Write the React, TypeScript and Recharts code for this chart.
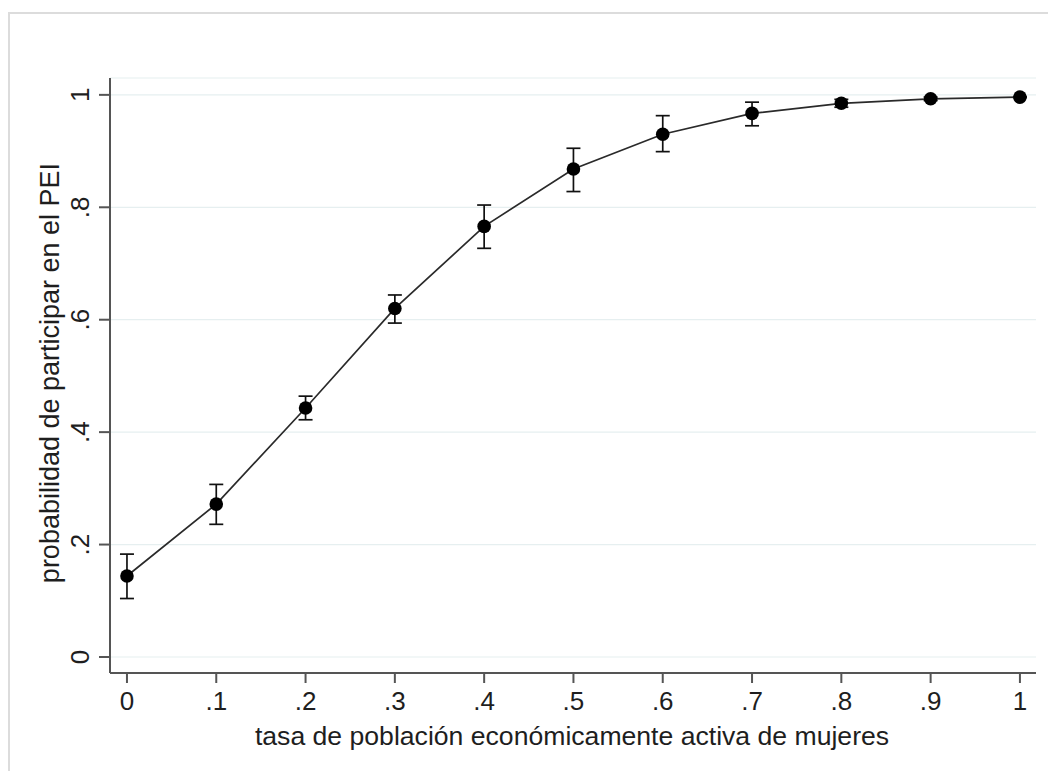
import {
  CartesianGrid,
  ComposedChart,
  ErrorBar,
  Line,
  XAxis,
  YAxis,
} from "recharts";

// tasa de PEA femenina (eje x)
const tasa = [0, 0.1, 0.2, 0.3, 0.4, 0.5, 0.6, 0.7, 0.8, 0.9, 1];
// probabilidad estimada y su intervalo de confianza
const prob = [0.144, 0.272, 0.443, 0.62, 0.766, 0.868, 0.93, 0.967, 0.985, 0.993, 0.996];
const ciLow = [0.104, 0.236, 0.422, 0.594, 0.727, 0.828, 0.899, 0.945, 0.978, 0.99, 0.995];
const ciHigh = [0.183, 0.307, 0.464, 0.644, 0.804, 0.905, 0.963, 0.987, 0.992, 0.996, 0.997];

const xTicks = [0, 0.1, 0.2, 0.3, 0.4, 0.5, 0.6, 0.7, 0.8, 0.9, 1];
const yTicks = [0, 0.2, 0.4, 0.6, 0.8, 1];

const FONT = '"Liberation Sans", Arial, Helvetica, sans-serif';
const TEXT = "#1e1e1e";
const AXIS = "#555555";

const fmt = (v: number) => {
  if (v === 0) return "0";
  if (v === 1) return "1";
  return String(Math.round(v * 10) / 10).replace(/^0/, "");
};

const data = tasa.map((x, i) => ({
  x,
  y: prob[i],
  err: [prob[i] - ciLow[i], ciHigh[i] - prob[i]],
}));

const XTick = ({ x, payload }: any) => (
  <text x={x} y={710} textAnchor="middle" fontSize={26} fontFamily={FONT} fill={TEXT}>
    {fmt(payload.value)}
  </text>
);

const YTick = ({ y, payload }: any) => (
  <text
    transform={`translate(89, ${y}) rotate(-90)`}
    textAnchor="middle"
    fontSize={26}
    fontFamily={FONT}
    fill={TEXT}
  >
    {fmt(payload.value)}
  </text>
);

export default function App() {
  return (
    <div style={{ position: "absolute", left: 0, top: 0, width: 1048, height: 771, background: "#fff" }}>
      <div
        style={{
          position: "absolute",
          left: 8,
          top: 12,
          width: 1060,
          height: 800,
          borderLeft: "2px solid #dcdcdc",
          borderTop: "2px solid #dcdcdc",
        }}
      />
      <div style={{ position: "absolute", left: 0, top: 0 }}>
        <ComposedChart
          width={1048}
          height={771}
          data={data}
          margin={{ top: 78, right: 12, bottom: 0, left: 0 }}
        >
          <CartesianGrid vertical={false} stroke="#e6eff0" strokeWidth={1.2} />
          <XAxis
            dataKey="x"
            type="number"
            domain={[-0.019, 1.018]}
            ticks={xTicks}
            allowDataOverflow
            height={98}
            tickSize={10}
            stroke={AXIS}
            strokeWidth={2}
            tick={<XTick />}
            label={{
              content: () => (
                <text x={572} y={745} textAnchor="middle" fontSize={26.6} fontFamily={FONT} fill={TEXT}>
                  tasa de población económicamente activa de mujeres
                </text>
              ),
            }}
          />
          <YAxis
            type="number"
            domain={[-0.0285, 1.03]}
            ticks={yTicks}
            allowDataOverflow
            width={110}
            tickSize={11}
            stroke={AXIS}
            strokeWidth={2}
            tick={<YTick />}
            label={{
              content: () => (
                <text
                  transform="translate(59, 373) rotate(-90)"
                  textAnchor="middle"
                  fontSize={27}
                  fontFamily={FONT}
                  fill={TEXT}
                >
                  probabilidad de participar en el PEI
                </text>
              ),
            }}
          />
          <Line
            dataKey="y"
            stroke="#2a2a2a"
            strokeWidth={1.7}
            isAnimationActive={false}
            dot={{ r: 6.8, fill: "#000", stroke: "#000", strokeWidth: 0 }}
            activeDot={false}
          >
            <ErrorBar dataKey="err" direction="y" width={7} stroke="#111" strokeWidth={1.7} />
          </Line>
        </ComposedChart>
      </div>
    </div>
  );
}
